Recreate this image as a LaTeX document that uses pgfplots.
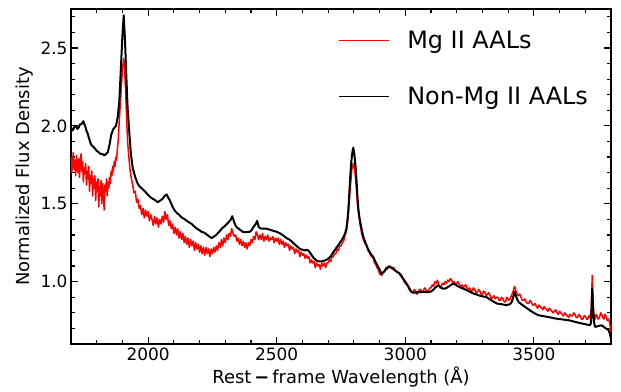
\documentclass[border=0pt]{standalone}
\usepackage{pgfplots}
\pgfplotsset{compat=1.18}
\usepackage{fontspec}
\setmainfont{DejaVu Sans}

\pgfplotstableread{
x y
1700 1.80
1703 1.70
1706 1.76
1709 1.83
1712 1.72
1715 1.78
1718 1.68
1721 1.81
1724 1.74
1727 1.70
1730 1.79
1733 1.67
1736 1.75
1739 1.82
1742 1.71
1745 1.77
1748 1.64
1751 1.73
1754 1.69
1757 1.76
1760 1.62
1763 1.71
1766 1.66
1769 1.74
1772 1.58
1775 1.68
1778 1.63
1781 1.71
1784 1.55
1787 1.66
1790 1.60
1793 1.68
1796 1.52
1799 1.64
1802 1.58
1805 1.66
1808 1.48
1811 1.61
1814 1.55
1817 1.65
1820 1.50
1823 1.63
1826 1.57
1829 1.46
1832 1.62
1835 1.58
1838 1.66
1841 1.55
1844 1.64
1847 1.60
1850 1.67
1853 1.63
1856 1.71
1859 1.68
1862 1.74
1865 1.71
1868 1.77
1871 1.74
1874 1.80
1877 1.78
1880 1.84
1884 1.92
1888 2.04
1894 2.20
1900 2.36
1905 2.43
1908 2.38
1912 2.24
1916 2.06
1920 1.90
1925 1.80
1930 1.71
1935 1.66
1940 1.62
1945 1.57
1950 1.58
1955 1.51
1960 1.53
1965 1.47
1970 1.49
1975 1.43
1980 1.47
1985 1.41
1990 1.46
1995 1.42
2000 1.45
2005 1.39
2010 1.43
2015 1.40
2020 1.36
2025 1.42
2030 1.37
2035 1.41
2040 1.35
2045 1.40
2050 1.37
2055 1.42
2060 1.38
2065 1.45
2070 1.40
2075 1.43
2080 1.36
2085 1.39
2090 1.34
2095 1.37
2100 1.31
2105 1.35
2110 1.30
2115 1.34
2120 1.28
2125 1.32
2130 1.27
2135 1.31
2140 1.25
2145 1.29
2150 1.24
2155 1.28
2160 1.22
2165 1.27
2170 1.23
2175 1.26
2180 1.20
2185 1.25
2190 1.21
2195 1.24
2200 1.19
2205 1.23
2210 1.18
2215 1.22
2220 1.17
2225 1.22
2230 1.18
2235 1.21
2240 1.16
2245 1.21
2250 1.18
2255 1.22
2260 1.19
2265 1.23
2270 1.20
2275 1.25
2280 1.22
2285 1.27
2290 1.23
2295 1.28
2300 1.25
2305 1.30
2310 1.27
2315 1.31
2320 1.29
2325 1.34
2330 1.31
2335 1.29
2340 1.30
2345 1.26
2350 1.28
2355 1.24
2360 1.27
2365 1.23
2370 1.26
2375 1.22
2380 1.25
2385 1.21
2390 1.25
2395 1.23
2400 1.27
2405 1.25
2410 1.29
2415 1.27
2420 1.32
2425 1.30
2430 1.27
2435 1.30
2440 1.27
2445 1.31
2450 1.26
2455 1.29
2460 1.27
2465 1.30
2470 1.26
2475 1.28
2480 1.27
2485 1.29
2490 1.25
2495 1.28
2500 1.26
2505 1.28
2510 1.24
2515 1.27
2520 1.24
2525 1.26
2530 1.22
2535 1.25
2540 1.23
2545 1.24
2550 1.20
2555 1.23
2560 1.21
2565 1.22
2570 1.18
2575 1.21
2580 1.19
2585 1.20
2590 1.16
2595 1.19
2600 1.17
2605 1.18
2610 1.15
2615 1.17
2620 1.15
2625 1.16
2630 1.12
2635 1.14
2640 1.12
2645 1.13
2650 1.09
2655 1.12
2660 1.10
2665 1.11
2670 1.08
2675 1.12
2680 1.10
2685 1.12
2690 1.09
2695 1.12
2700 1.12
2705 1.14
2710 1.13
2715 1.16
2720 1.16
2725 1.18
2730 1.18
2735 1.21
2740 1.20
2745 1.23
2750 1.23
2755 1.25
2760 1.26
2766 1.30
2772 1.33
2780 1.46
2785 1.58
2792 1.72
2798 1.76
2803 1.72
2808 1.64
2813 1.52
2817 1.45
2825 1.36
2830 1.31
2837 1.27
2845 1.24
2850 1.23
2855 1.20
2860 1.19
2865 1.17
2870 1.16
2876 1.15
2880 1.12
2885 1.11
2890 1.09
2895 1.08
2900 1.05
2908 1.04
2913 1.06
2918 1.06
2925 1.09
2930 1.08
2935 1.10
2941 1.10
2945 1.09
2950 1.08
2955 1.09
2960 1.07
2965 1.07
2970 1.06
2975 1.06
2980 1.04
2985 1.03
2990 1.02
2995 1.00
3000 0.99
3005 0.98
3010 0.97
3015 0.95
3020 0.94
3025 0.93
3030 0.93
3035 0.95
3040 0.94
3045 0.92
3050 0.93
3055 0.95
3060 0.95
3065 0.93
3070 0.94
3075 0.96
3080 0.95
3085 0.93
3090 0.94
3095 0.96
3100 0.96
3105 0.98
3110 0.97
3115 1.00
3120 0.99
3125 1.01
3130 0.98
3135 0.96
3140 0.97
3145 0.99
3150 0.98
3155 1.00
3160 0.99
3165 1.01
3170 1.00
3175 1.02
3180 1.01
3185 0.99
3190 1.00
3195 0.98
3200 0.99
3205 1.00
3210 0.98
3215 0.97
3220 0.98
3225 0.96
3230 0.97
3235 0.98
3240 0.96
3245 0.95
3250 0.96
3255 0.94
3260 0.94
3265 0.96
3270 0.95
3275 0.93
3280 0.93
3285 0.95
3290 0.94
3295 0.92
3300 0.92
3305 0.94
3310 0.93
3315 0.91
3320 0.92
3325 0.93
3330 0.91
3335 0.89
3340 0.90
3345 0.91
3350 0.89
3355 0.90
3360 0.90
3365 0.88
3370 0.88
3375 0.90
3380 0.89
3385 0.87
3390 0.87
3395 0.90
3400 0.89
3405 0.88
3410 0.90
3418 0.93
3425 0.97
3432 0.93
3440 0.91
3445 0.92
3450 0.90
3455 0.88
3460 0.88
3465 0.89
3470 0.87
3475 0.86
3480 0.86
3485 0.88
3490 0.87
3495 0.85
3500 0.85
3505 0.86
3510 0.84
3515 0.83
3520 0.85
3525 0.84
3530 0.83
3535 0.82
3540 0.84
3545 0.83
3550 0.82
3555 0.81
3560 0.83
3565 0.82
3570 0.81
3575 0.80
3580 0.81
3585 0.82
3590 0.80
3595 0.79
3600 0.81
3605 0.80
3610 0.79
3615 0.78
3620 0.80
3625 0.79
3630 0.78
3635 0.77
3640 0.79
3645 0.78
3650 0.78
3655 0.80
3660 0.79
3665 0.77
3670 0.77
3675 0.79
3680 0.78
3685 0.76
3690 0.76
3695 0.78
3700 0.78
3705 0.76
3710 0.76
3714 0.78
3718 0.77
3723 0.82
3727 1.04
3731 0.84
3735 0.77
3738 0.76
3742 0.79
3745 0.78
3750 0.76
3755 0.77
3760 0.80
3764 0.79
3768 0.77
3772 0.76
3776 0.79
3780 0.78
3785 0.75
3790 0.76
3794 0.74
3797 0.71
3800 0.67
}\redtab

\pgfplotstableread{
x y
1700 1.99
1705 1.97
1710 1.98
1715 2.00
1720 2.00
1725 1.98
1730 1.99
1735 2.01
1740 2.01
1744 2.02
1748 2.03
1752 2.01
1755 2.00
1760 1.97
1765 1.95
1770 1.92
1778 1.88
1784 1.87
1790 1.86
1795 1.85
1800 1.84
1808 1.83
1815 1.82
1822 1.82
1830 1.81
1836 1.82
1843 1.83
1850 1.88
1856 1.94
1860 1.96
1865 1.98
1870 1.99
1875 2.00
1882 2.06
1888 2.16
1894 2.37
1900 2.58
1905 2.71
1910 2.55
1914 2.37
1920 2.12
1927 1.95
1933 1.82
1940 1.73
1950 1.67
1959 1.63
1967 1.61
1975 1.60
1987 1.58
1998 1.56
2010 1.54
2020 1.53
2030 1.52
2037 1.51
2046 1.52
2055 1.53
2064 1.55
2072 1.56
2078 1.54
2085 1.52
2095 1.48
2104 1.455
2112 1.44
2120 1.43
2132 1.41
2143 1.40
2150 1.39
2160 1.38
2170 1.37
2182 1.35
2190 1.34
2200 1.33
2207 1.32
2215 1.317
2222 1.31
2230 1.30
2238 1.29
2247 1.28
2256 1.29
2265 1.30
2276 1.32
2286 1.34
2293 1.35
2300 1.36
2306 1.37
2312 1.38
2317 1.39
2322 1.40
2327 1.42
2331 1.40
2335 1.38
2340 1.36
2344 1.35
2352 1.34
2360 1.33
2368 1.32
2377 1.317
2386 1.32
2395 1.32
2402 1.33
2409 1.35
2414 1.36
2418 1.37
2421 1.38
2424 1.39
2427 1.37
2430 1.35
2435 1.345
2440 1.34
2450 1.34
2461 1.34
2470 1.335
2480 1.33
2490 1.325
2500 1.32
2513 1.31
2526 1.296
2538 1.28
2550 1.27
2560 1.255
2570 1.24
2580 1.225
2591 1.21
2600 1.205
2610 1.20
2617 1.205
2623 1.20
2632 1.18
2640 1.16
2648 1.145
2655 1.136
2665 1.13
2675 1.13
2685 1.135
2694 1.14
2700 1.148
2707 1.157
2713 1.17
2720 1.19
2727 1.205
2733 1.22
2740 1.235
2746 1.25
2752 1.265
2759 1.285
2766 1.31
2772 1.35
2776 1.41
2780 1.50
2785 1.647
2789 1.75
2792 1.80
2795 1.84
2798 1.86
2801 1.83
2803 1.80
2806 1.75
2808 1.71
2811 1.63
2813 1.57
2817 1.476
2821 1.42
2825 1.38
2831 1.33
2837 1.285
2845 1.25
2855 1.21
2865 1.18
2876 1.157
2883 1.13
2890 1.11
2899 1.08
2908 1.05
2914 1.06
2920 1.07
2925 1.08
2930 1.09
2935 1.095
2941 1.093
2948 1.09
2955 1.08
2962 1.07
2970 1.06
2975 1.055
2980 1.05
2990 1.025
3000 1.00
3008 0.98
3015 0.96
3020 0.945
3025 0.934
3032 0.93
3040 0.93
3048 0.932
3057 0.934
3066 0.935
3075 0.935
3085 0.933
3096 0.934
3103 0.94
3110 0.95
3119 0.965
3128 0.977
3134 0.97
3140 0.96
3147 0.955
3154 0.955
3162 0.962
3170 0.97
3178 0.98
3187 0.987
3196 0.98
3205 0.97
3215 0.962
3226 0.955
3235 0.948
3245 0.94
3255 0.932
3265 0.924
3278 0.917
3290 0.91
3303 0.905
3317 0.90
3326 0.89
3335 0.88
3345 0.87
3356 0.86
3365 0.857
3375 0.855
3385 0.852
3394 0.849
3403 0.853
3410 0.86
3414 0.87
3418 0.89
3422 0.915
3425 0.935
3428 0.92
3432 0.90
3436 0.885
3440 0.87
3453 0.853
3466 0.838
3478 0.824
3490 0.81
3503 0.797
3517 0.785
3533 0.78
3550 0.775
3566 0.77
3582 0.764
3596 0.761
3610 0.758
3622 0.755
3634 0.753
3647 0.748
3660 0.742
3673 0.737
3686 0.732
3695 0.729
3705 0.725
3712 0.723
3718 0.721
3721 0.73
3723 0.76
3725 0.86
3727 0.955
3729 0.88
3731 0.80
3734 0.74
3738 0.71
3744 0.712
3750 0.715
3757 0.718
3764 0.72
3772 0.71
3780 0.70
3786 0.695
3790 0.69
3795 0.67
3800 0.63
}\blacktab

\begin{document}
\begin{tikzpicture}
\begin{axis}[name=ax,
  scale only axis, width=540bp, height=335bp,
  xmin=1700, xmax=3800, ymin=0.6, ymax=2.75,
  xtick={2000,2500,3000,3500}, ytick={1.0,1.5,2.0,2.5},
  minor xtick={1700,1800,...,3800},
  minor ytick={0.6,0.7,...,2.71},
  tick align=inside,
  major tick length=7bp, minor tick length=4bp,
  every tick/.style={black, line width=1.2bp},
  axis line style={line width=1.5bp},
  /pgf/number format/assume math mode=true,
  xticklabel style={/pgf/number format/1000 sep={}, font=\fontsize{17}{20}\selectfont},
  yticklabel style={/pgf/number format/fixed, /pgf/number format/fixed zerofill,
    /pgf/number format/precision=1, font=\fontsize{17}{20}\selectfont},
  xlabel={Rest\,{\bfseries −}\,frame Wavelength (Å)},
  ylabel={Normalized Flux Density},
  label style={font=\fontsize{18}{21}\selectfont},
  legend style={at={(0.489,0.95)}, anchor=north west, draw=none, fill=none,
    font=\fontsize{24}{28}\selectfont, row sep=31bp,
    nodes={inner sep=3bp}},
  legend cell align=left,
  legend image code/.code={\draw[#1, line width=1.1bp] (0bp,0bp) -- (50bp,0bp);},
]
\addplot[red, line width=1.5bp, line join=round] table[x=x, y=y] {\redtab};
\addlegendentry{\hspace{15bp}Mg II AALs}
\addplot[black, line width=2bp, line join=round] table[x=x, y=y] {\blacktab};
\addlegendentry{\hspace{15bp}Non-Mg II AALs}
\end{axis}
\pgfresetboundingbox
\path ([shift={(-71bp,-48bp)}]ax.south west) rectangle ([shift={(10bp,9bp)}]ax.north east);
\end{tikzpicture}
\end{document}
